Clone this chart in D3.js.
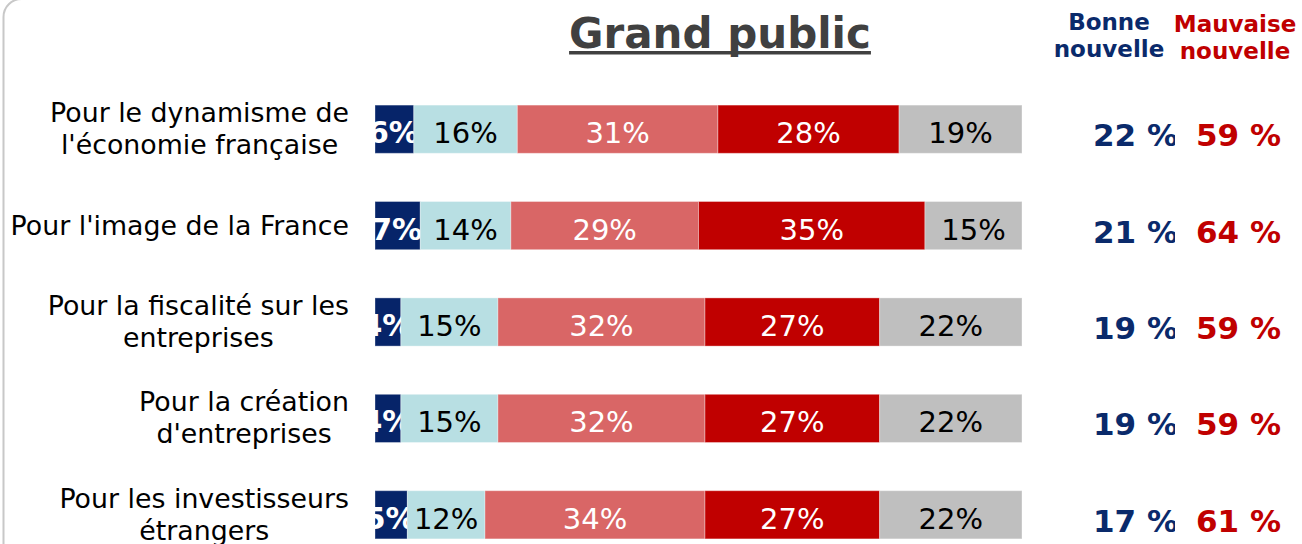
<!DOCTYPE html>
<html><head><meta charset="utf-8">
<script src="https://cdn.jsdelivr.net/npm/d3@7"></script>
<style>body{margin:0;background:#fff}svg{display:block}</style>
</head><body>
<svg id="c" width="1302" height="544"></svg>
<script>
const categories = [
  ["Pour le dynamisme de", "l'économie française"],
  ["Pour l'image de la France"],
  ["Pour la fiscalité sur les", "entreprises"],
  ["Pour la création", "d'entreprises"],
  ["Pour les investisseurs", "étrangers"]
];
const seriesNames = ["Très bonne", "Plutôt bonne", "Plutôt mauvaise", "Très mauvaise", "NSP"];
const values = [
  [6, 16, 31, 28, 19],
  [7, 14, 29, 35, 15],
  [4, 15, 32, 27, 22],
  [4, 15, 32, 27, 22],
  [5, 12, 34, 27, 22]
];
const bonne = [22, 21, 19, 19, 17];
const mauvaise = [59, 64, 59, 59, 61];
const title = "Grand public";
const colors = ["#062469", "#b8dfe3", "#d96666", "#c00000", "#bfbfbf"];
const labelColors = ["#fff", "#000", "#fff", "#fff", "#000"];

const svg = d3.select("#c");
const font = "'DejaVu Sans', Verdana, sans-serif";

// frame
svg.append("rect").attr("x", 3.5).attr("y", -1).attr("width", 1400).attr("height", 700)
  .attr("rx", 18).attr("fill", "none").attr("stroke", "#c8c8c8").attr("stroke-width", 2);

const x = d3.scaleLinear().domain([0, 100]).range([375, 1022]);
const y = d3.scaleBand().domain(d3.range(categories.length)).range([81, 563]).paddingInner(0.5).paddingOuter(0.25);

// title
const t = svg.append("text").attr("x", 720).attr("y", 48).attr("text-anchor", "middle")
  .attr("font-family", font).attr("font-weight", "bold").attr("font-size", 42)
  .attr("fill", "#404040").text(title);
const tb = t.node().getBBox();
svg.append("rect").attr("x", tb.x).attr("y", 51).attr("width", tb.width).attr("height", 3.5).attr("fill", "#404040");

// column headers
function header(lines, cx, y0, color) {
  const tx = svg.append("text").attr("text-anchor", "middle").attr("font-family", font)
    .attr("font-weight", "bold").attr("font-size", 23).attr("fill", color);
  lines.forEach((l, i) => tx.append("tspan").attr("x", cx).attr("y", y0 + i * 27).text(l));
}
header(["Bonne", "nouvelle"], 1109, 30, "#0a2a6b");
header(["Mauvaise", "nouvelle"], 1235, 32, "#c00000");

const defs = svg.append("defs");

values.forEach((row, i) => {
  const g = svg.append("g");
  const yy = y(i), h = y.bandwidth(), cy = yy + h / 2;
  let cum = 0;
  row.forEach((v, j) => {
    const x0 = x(cum), x1 = x(cum + v);
    cum += v;
    g.append("rect").attr("x", x0).attr("y", yy).attr("width", x1 - x0).attr("height", h)
      .attr("fill", colors[j]).attr("stroke", "#fff").attr("stroke-opacity", 0.35).attr("stroke-width", 1);
    const id = "clip" + i + "_" + j;
    defs.append("clipPath").attr("id", id).append("rect")
      .attr("x", x0).attr("y", yy).attr("width", x1 - x0).attr("height", h);
    g.append("text").attr("x", (x0 + x1) / 2 + (j === 0 ? -1 : 0)).attr("y", cy + 14)
      .attr("text-anchor", "middle").attr("font-family", font)
      .attr("font-size", j === 0 ? 30 : 29).attr("font-weight", j === 0 ? "bold" : "normal")
      .attr("fill", labelColors[j]).attr("clip-path", j === 0 ? `url(#${id})` : null)
      .text(v + "%");
  });

  // category label
  const lines = categories[i];
  const lt = svg.append("text").attr("text-anchor", "middle").attr("font-family", font)
    .attr("font-size", 26.8).attr("fill", "#000");
  const lh = 32;
  const ts = lines.map((l, k) => lt.append("tspan").attr("y", cy + 9 + (k - (lines.length - 1) / 2) * lh).text(l));
  const maxW = d3.max(ts, s => s.node().getComputedTextLength());
  ts.forEach(s => s.attr("x", 349 - maxW / 2));

  // summary values
  const cid = "bclip" + i;
  defs.append("clipPath").attr("id", cid).append("rect").attr("x", 1000).attr("y", 0).attr("width", 175).attr("height", 544);
  svg.append("text").attr("x", 1093).attr("y", cy + 17).attr("font-family", font)
    .attr("font-weight", "bold").attr("font-size", 31).attr("fill", "#0a2a6b")
    .attr("clip-path", `url(#${cid})`).text(bonne[i] + " %");
  svg.append("text").attr("x", 1196).attr("y", cy + 17).attr("font-family", font)
    .attr("font-weight", "bold").attr("font-size", 31).attr("fill", "#c00000")
    .text(mauvaise[i] + " %");
});
</script>
</body></html>
